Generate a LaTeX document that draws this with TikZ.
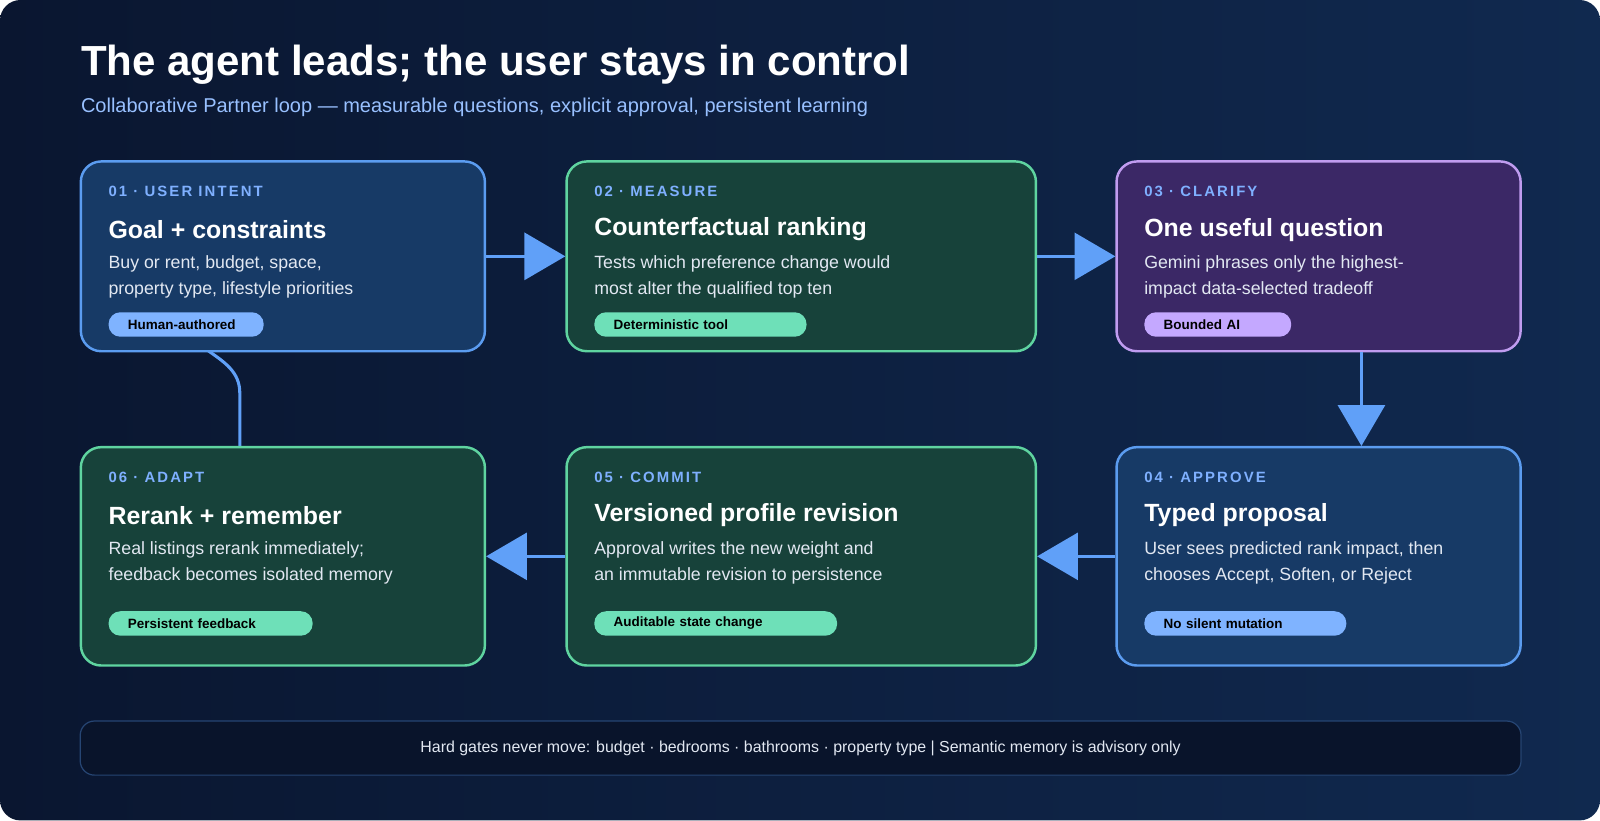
\documentclass[tikz,border=0pt]{standalone}
\usepackage{fontspec}
\setmainfont{Liberation Sans}
\newfontfamily\labelfont[LetterSpace=14]{Liberation Sans}
\usetikzlibrary{positioning,arrows.meta,calc}

\definecolor{bgA}{HTML}{0A1630}
\definecolor{bgB}{HTML}{10294F}
\definecolor{bluefill}{HTML}{173A66}
\definecolor{blueline}{HTML}{5B9CF0}
\definecolor{greenfill}{HTML}{17423A}
\definecolor{greenline}{HTML}{5FD4A0}
\definecolor{purplefill}{HTML}{3B2866}
\definecolor{purpleline}{HTML}{C09CF0}
\definecolor{bluechip}{HTML}{7FB3FF}
\definecolor{greenchip}{HTML}{6EE0B8}
\definecolor{purplechip}{HTML}{C4A8FF}
\definecolor{labelblue}{HTML}{7FB0FF}
\definecolor{desctext}{HTML}{E2E8F2}
\definecolor{arrowblue}{HTML}{60A0F8}

\tikzset{
card/.style={draw=#1line, fill=#1fill, line width=1.2pt, rounded corners=10pt, anchor=north west, inner sep=0pt},
steplabel/.style={anchor=west, inner sep=0pt, text=labelblue, font=\labelfont\bfseries\fontsize{7.3}{8}\selectfont},
steptitle/.style={anchor=west, inner sep=0pt, text=white, font=\bfseries\fontsize{12.2}{14}\selectfont},
stepdesc/.style={anchor=north west, inner sep=0pt, text=desctext, align=left, font=\fontsize{8.7}{13}\selectfont},
chip/.style={anchor=west, fill=#1chip, rounded corners=5.8pt, inner ysep=0pt, inner xsep=9.5pt, align=left, minimum height=12pt, text=black, font=\bfseries\fontsize{6.6}{7}\selectfont},
flow/.style={arrowblue, line width=1.5pt, -{Triangle[length=20pt,width=23pt]}},
}

% card: name, colour, x, y, width, height, label, title, description
\newcommand{\stepcard}[9]{%
  \node[card=#2, minimum width=#5, minimum height=#6] (#1) at (#3,#4) {};
  \node[steplabel] (#1-label) at ([xshift=14pt,yshift=-15.5pt]#1.north west) {#7};
  \node[steptitle] (#1-title) at ([xshift=14pt,yshift=-34pt]#1.north west) {#8};
  \node[stepdesc] (#1-desc) at ([xshift=14pt,yshift=-46.5pt]#1.north west) {#9};
}
% chip: card, colour, text width, y offset, text
\newcommand{\stepchip}[5]{%
  \node[chip=#2, text width=#3] (#1-chip) at ([xshift=14pt,yshift=#4]#1.north west) {#5};
}

\begin{document}
\begin{tikzpicture}[x=0.5pt,y=-0.5pt]
\useasboundingbox (0,0) rectangle (1568,804);
\fill[white] (0,0) rectangle (1568,804);
\shade[left color=bgA, right color=bgB, rounded corners=10pt] (0,0) rectangle (1568,804);

%Header
\node[anchor=west, inner sep=0pt, text=white, font=\bfseries\fontsize{20.6}{24}\selectfont] (head) at (79,63) {The agent leads; the user stays in control};
\node[anchor=west, inner sep=0pt, text=labelblue!80!white, font=\fontsize{9.8}{11}\selectfont] (sub) at (79,105) {Collaborative Partner loop — measurable questions, explicit approval, persistent learning};

%Loop back line (behind cards)
\coordinate (loopA) at (235,437);
\coordinate (loopB) at (235,385);
\coordinate (loopC) at (203,343);
\coordinate (loopD) at (196,157);
\draw[arrowblue, line width=1.5pt, -{Triangle[length=12pt,width=12pt]}] (loopA) -- (loopB) to[out=90,in=-35] (loopC) -- (loopD);

%Cards
\stepcard{intent}{blue}{78}{157}{198pt}{93pt}{01 · USER INTENT}{Goal + constraints}{Buy or rent, budget, space,\\property type, lifestyle priorities}
\stepchip{intent}{blue}{57pt}{-80.5pt}{Human-authored}
\stepcard{measure}{green}{554}{157}{230pt}{93pt}{02 · MEASURE}{Counterfactual ranking}{Tests which preference change would\\most alter the qualified top ten}
\stepchip{measure}{green}{85pt}{-80.5pt}{Deterministic tool}
\stepcard{clarify}{purple}{1093}{157}{198pt}{93pt}{03 · CLARIFY}{One useful question}{Gemini phrases only the highest-\\impact data-selected tradeoff}
\stepchip{clarify}{purple}{53pt}{-80.5pt}{Bounded AI}
\stepcard{approve}{blue}{1093}{437}{198pt}{107pt}{04 · APPROVE}{Typed proposal}{User sees predicted rank impact, then\\chooses Accept, Soften, or Reject}
\stepchip{approve}{blue}{80pt}{-87pt}{No silent mutation}
\stepcard{commit}{green}{554}{437}{230pt}{107pt}{05 · COMMIT}{Versioned profile revision}{Approval writes the new weight and\\an immutable revision to persistence}
\stepchip{commit}{green}{100pt}{-87pt}{Auditable state change}
\stepcard{adapt}{green}{78}{437}{198pt}{107pt}{06 · ADAPT}{Rerank + remember}{Real listings rerank immediately;\\feedback becomes isolated memory}
\stepchip{adapt}{green}{81pt}{-87pt}{Persistent feedback}

%Arrows
\draw[flow] (intent.east) -- (measure.west);
\draw[flow] (measure.east) -- (clarify.west);
\draw[flow] ($(clarify.south)+(42,0)$) -- ($(approve.north)+(42,0)$);
\draw[flow] (approve.west) -- (commit.east);
\draw[flow] (commit.west) -- (adapt.east);

%Footer
\node[draw=blueline!35!bgA, fill=bgA!90!black, line width=0.6pt, rounded corners=7pt, minimum width=706pt, minimum height=26.5pt, anchor=north west, inner sep=0pt, text=desctext, font=\fontsize{7.8}{9}\selectfont] (gates) at (78,706) {Hard gates never move: budget · bedrooms · bathrooms · property type | Semantic memory is advisory only};
\end{tikzpicture}
\end{document}
